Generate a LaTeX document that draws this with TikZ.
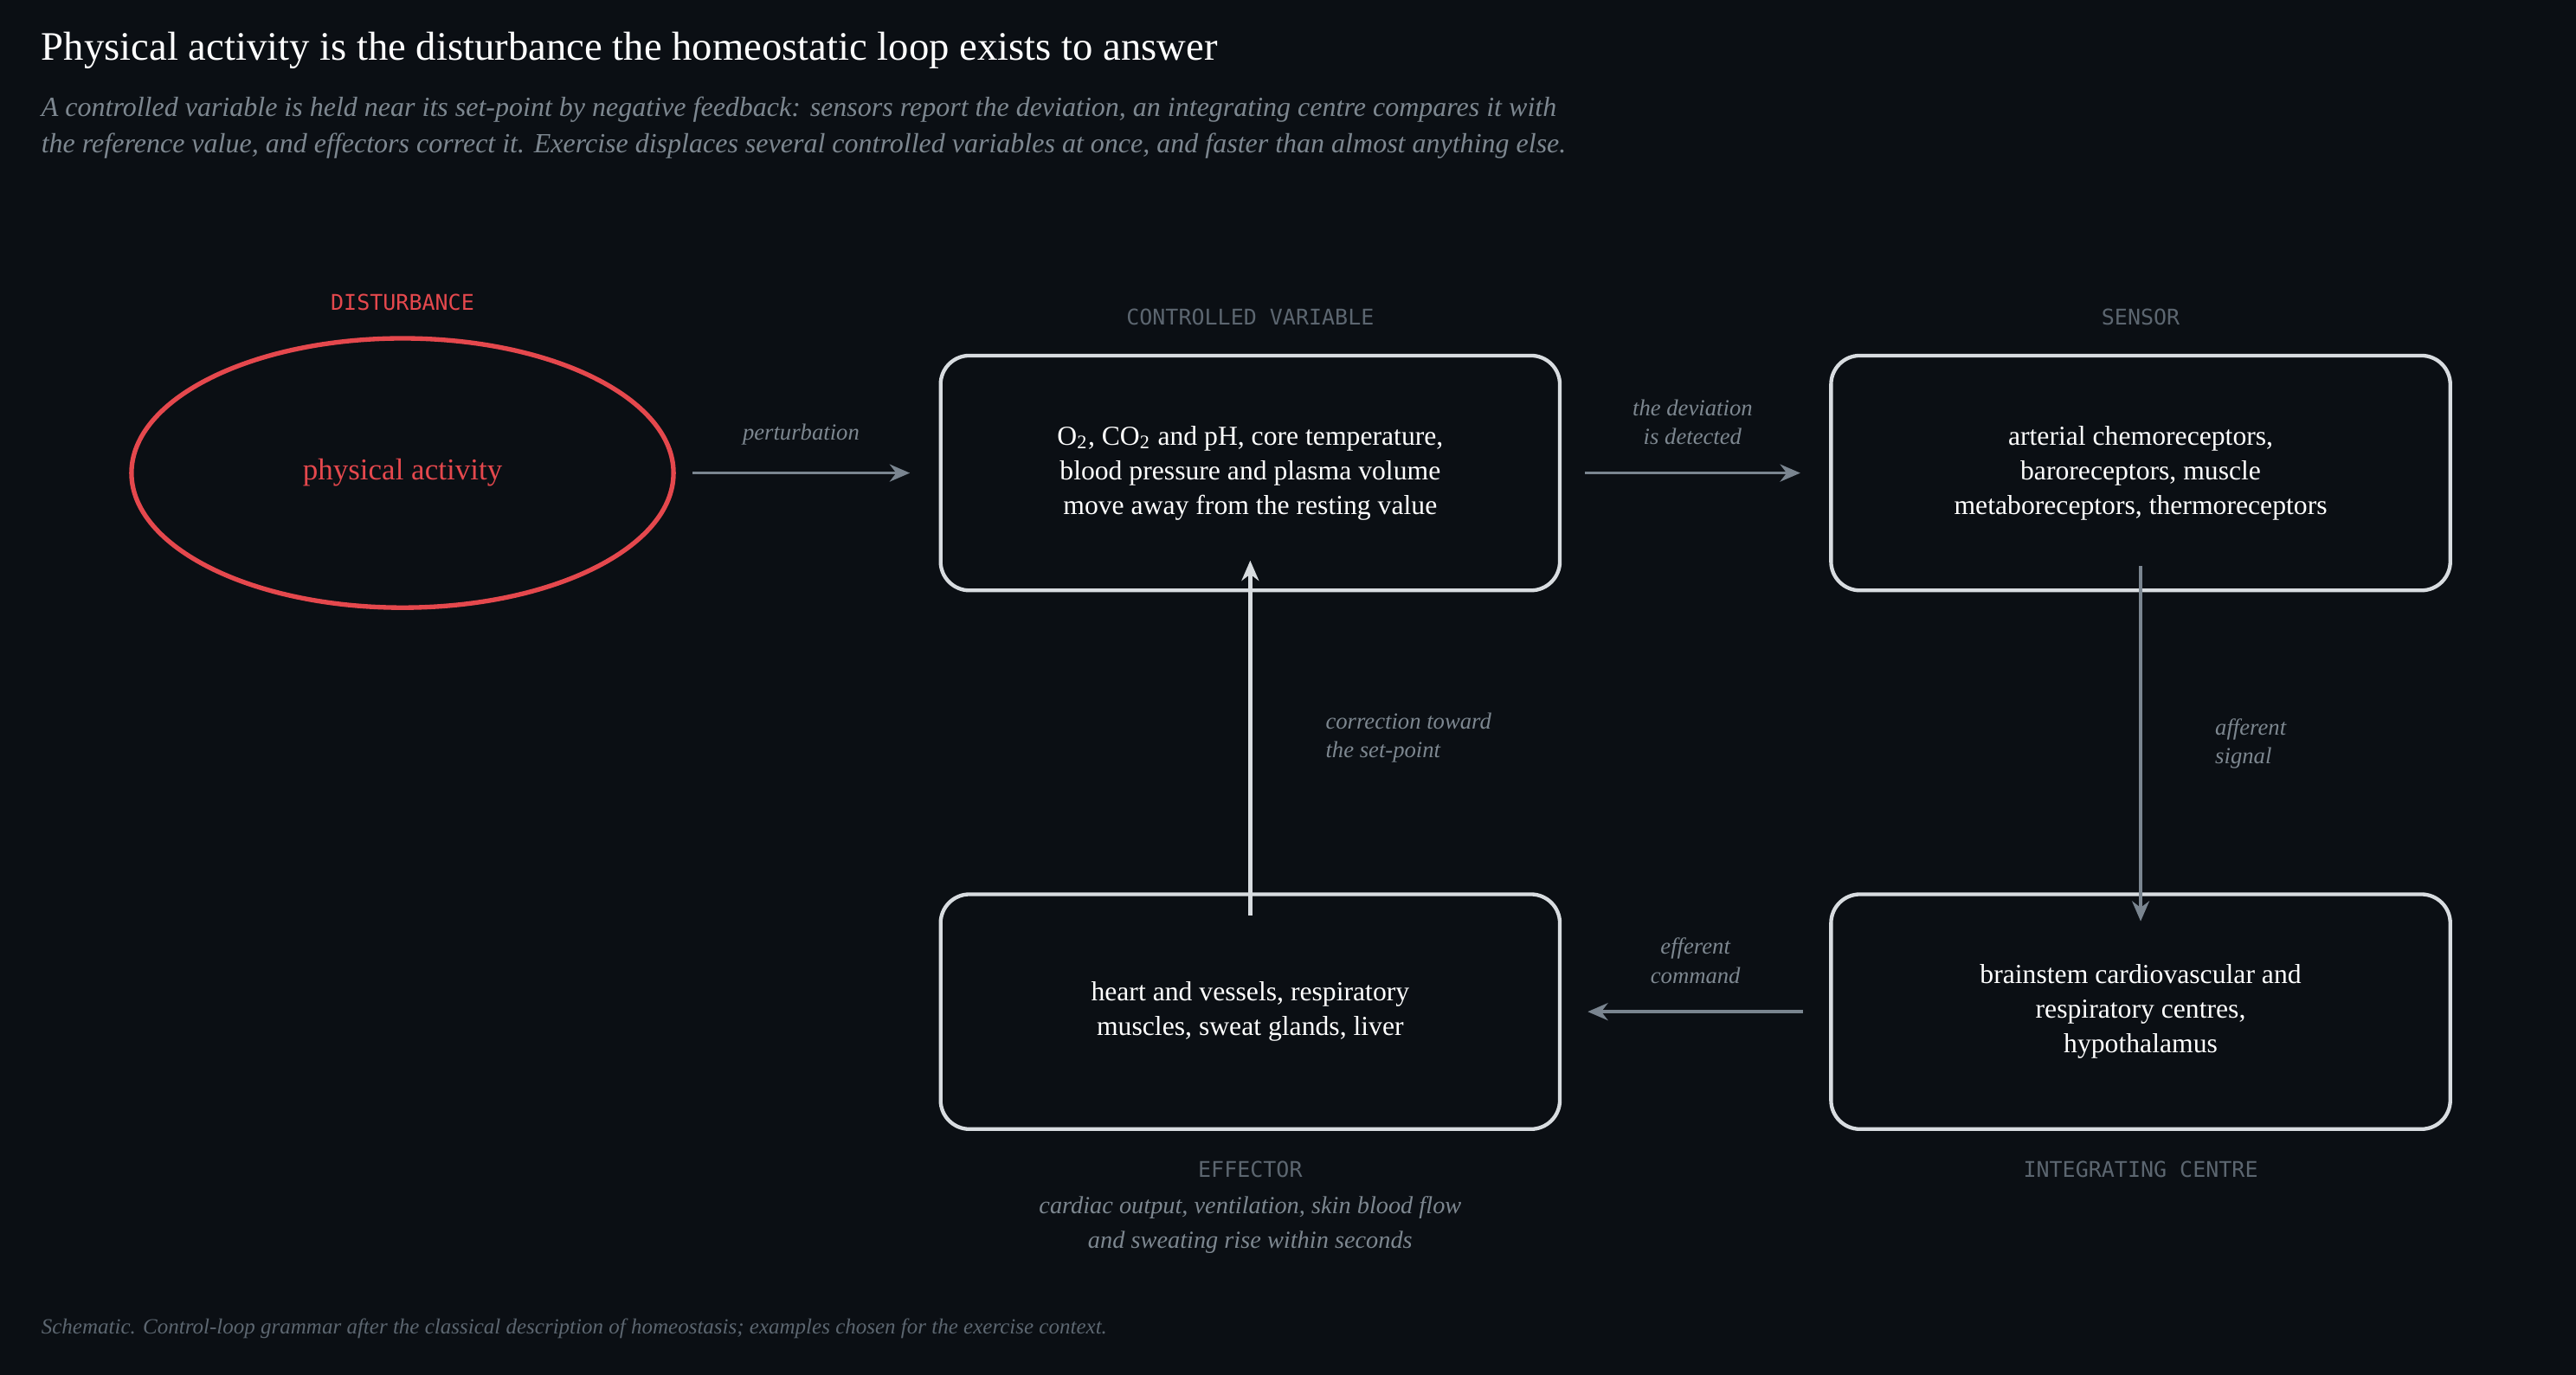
\documentclass[tikz,border=0pt]{standalone}
\usepackage{fontspec}
\setmainfont{Liberation Serif}
\setmonofont{DejaVu Sans Mono}
\usetikzlibrary{shapes.geometric,arrows.meta}
\definecolor{bg}{HTML}{0B0F14}
\definecolor{boxline}{HTML}{D8DCE0}
\definecolor{hot}{HTML}{E5484D}
\definecolor{arr}{HTML}{7A8590}
\definecolor{cap}{HTML}{5C6670}
\definecolor{note}{HTML}{7D8790}
\tikzset{
    stage/.style={draw=boxline,line width=1.3pt,rounded corners=10pt,fill=bg,
        minimum width=7.54cm,minimum height=2.86cm,align=center,
        text=white,font=\fontsize{9.5}{12}\selectfont},
    tag/.style={text=cap,font=\ttfamily\fontsize{7.5}{9}\selectfont},
    flow/.style={draw=arr,line width=1pt,-{Stealth[length=7pt,width=6pt]}},
    lbl/.style={text=note,font=\itshape\fontsize{8}{10}\selectfont,align=center},
}
\begin{document}
\begin{tikzpicture}[x=0.02cm,y=-0.02cm]
    \fill[bg] (0,0) rectangle (1568,837);

    % Heading
    \node[anchor=west,text=white,font=\fontsize{14}{16}\selectfont] (title) at (19,31)
        {Physical activity is the disturbance the homeostatic loop exists to answer};
    \node[anchor=north west,text=note,align=left,font=\itshape\fontsize{9.6}{12.5}\selectfont] (sub) at (19,53)
        {A controlled variable is held near its set-point by negative feedback: sensors report the deviation, an integrating centre compares it with\\
         the reference value, and effectors correct it. Exercise displaces several controlled variables at once, and faster than almost anything else.};

    % Disturbance
    \node[draw=hot,line width=1.6pt,ellipse,minimum width=6.6cm,minimum height=3.28cm,
        text=hot,font=\fontsize{10.5}{12}\selectfont] (act) at (245,288) {physical activity};
    \node[text=hot,font=\ttfamily\fontsize{7.5}{9}\selectfont] (actcap) at (245,184) {DISTURBANCE};

    % Stages
    \node[stage] (var) at (761,288) {O\textsubscript{2}, CO\textsubscript{2} and pH, core temperature,\\blood pressure and plasma volume\\move away from the resting value};
    \node[stage] (sens) at (1303,288) {arterial chemoreceptors,\\baroreceptors, muscle\\metaboreceptors, thermoreceptors};
    \node[stage] (integ) at (1303,616) {brainstem cardiovascular and\\respiratory centres,\\hypothalamus};
    \node[stage] (eff) at (761,616) {heart and vessels, respiratory\\muscles, sweat glands, liver};

    \node[tag] (varcap) at (761,193) {CONTROLLED VARIABLE};
    \node[tag] (senscap) at (1303,193) {SENSOR};
    \node[tag] (integcap) at (1303,712) {INTEGRATING CENTRE};
    \node[tag] (effcap) at (761,712) {EFFECTOR};
    \node[lbl,font=\itshape\fontsize{8.5}{12}\selectfont] (effnote) at (761,746)
        {cardiac output, ventilation, skin blood flow\\and sweating rise within seconds};

    % Loop
    \draw[flow] (act.east) ++(10,0) coordinate (p0) -- ([xshift=-10]var.west) node[lbl,midway,above=6pt] (pert) {perturbation};
    \draw[flow] ([xshift=8]var.east) -- ([xshift=-10]sens.west) node[lbl,midway,above=6pt] (dev) {the deviation\\is detected};
    \draw[flow] ([yshift=9]sens.south) -- ([yshift=-10]integ.north) node[lbl,midway,right=22pt,align=left] (aff) {afferent\\signal};
    \draw[flow] ([xshift=-9]integ.west) -- ([xshift=9]eff.west -| eff.east) node[lbl,midway,above=6pt] (effc) {efferent\\command};
    \draw[flow,draw=boxline,line width=1.6pt] ([yshift=-8]eff.north) -- ([yshift=11]var.south) node[lbl,midway,right=22pt,align=left] (corr) {correction toward\\the set-point};

    % Footer
    \node[anchor=west,text=cap,font=\itshape\fontsize{7.5}{9}\selectfont] (foot) at (19,809)
        {Schematic. Control-loop grammar after the classical description of homeostasis; examples chosen for the exercise context.};
\end{tikzpicture}
\end{document}
